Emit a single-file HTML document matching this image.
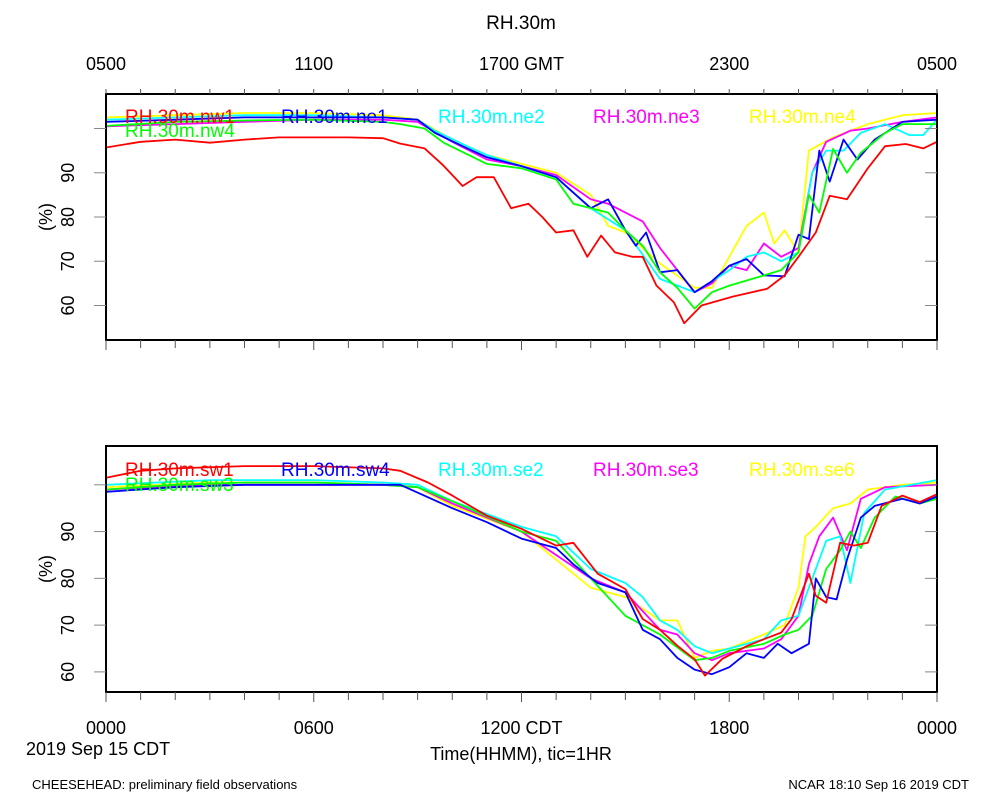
<!DOCTYPE html>
<html><head><meta charset="utf-8"><style>
body{margin:0;background:#fff;}
svg text{font-family:"Liberation Sans",sans-serif;}
</style></head><body>
<svg id="chart" width="1000" height="800" viewBox="0 0 1000 800" xmlns="http://www.w3.org/2000/svg">
<text x="521" y="29" font-size="19" text-anchor="middle">RH.30m</text>
<g id="g-top"></g>
<g id="g-bot"></g>
<text x="521" y="760" font-size="18" text-anchor="middle">Time(HHMM), tic=1HR</text>
<text x="26" y="755" font-size="18">2019 Sep 15 CDT</text>
<text x="32" y="789" font-size="13">CHEESEHEAD: preliminary field observations</text>
<text x="969" y="789" font-size="13" text-anchor="end">NCAR 18:10 Sep 16 2019 CDT</text>
</svg>
<script>
const topTickLabels = ["0500","1100","1700 GMT","2300","0500"];
const botTickLabels = ["0000","0600","1200 CDT","1800","0000"];
const yTicks = [60,70,80,90,100];
const yTickLabels = ["60","70","80","90",""];

const nw1_t=[0,1,2,3,4,5,6,7,8,8.5,9.2,9.75,10.3,10.7,11.2,11.7,12.2,12.6,13,13.5,13.9,14.3,14.7,15.2,15.5,15.9,16.4,16.7,17.2,18.1,19.1,19.6,20,20.5,20.9,21.4,22,22.5,23.1,23.6,24];
const nw1_v=[95.7,97,97.5,96.8,97.5,98,98,98,97.8,96.6,95.5,91.6,87,89,89,82,83,80,76.5,77,71,75.8,72,71,71,64.5,60.7,56,60,62,63.8,66.8,71,76.5,84.8,84,91,96,96.5,95.5,97];
const nw4_t=[0,2,4,6,8,8.5,9.2,9.75,11,12,13,13.5,14.5,15,15.5,16,16.5,17,17.5,18,19,19.5,20,20.3,20.6,21,21.4,21.8,22.5,23,24];
const nw4_v=[100.6,101.5,101.8,102,101.5,101,100,96.8,92,91,88.5,83,81,77,73.5,67.5,64,59.3,63,64.5,66.8,68,72,85,81,95.4,90,94.5,99,101,101];
const ne1_t=[0,2,4,6,8,9,9.5,10.3,11,12,13,13.5,14,14.5,15,15.3,15.6,16,16.5,17,17.5,18,18.5,19,19.6,20,20.3,20.6,20.9,21.3,21.7,22.2,23,24];
const ne1_v=[101.5,102,102.5,102.5,102.5,102,99,96,93.5,91.5,89,85.5,82,84,77,73.5,76.5,67.5,68,63,65.5,69,70.5,66.8,66.6,76,75,95,88,97.5,93,97.5,101.5,102];
const ne2_t=[0,2,4,6,8,9,9.5,10.3,11,12,13,14,15,16,17,18,18.5,19,19.5,20,20.4,20.8,21.3,21.8,22.5,23.2,23.6,24];
const ne2_v=[102,102.5,103,103,102.5,102,99.5,96.5,94,91.5,89,82,77,66,63,68,71,72,70,72,90,95,95,99,101,98.5,98.5,102];
const ne3_t=[0,2,4,6,8,9,10,11,12,13,14,14.5,15.5,16,16.5,17,17.5,18,18.5,19,19.5,20,20.4,20.8,21.5,22,23,24];
const ne3_v=[100.5,101,101.5,102,102,101.5,97,93,91.5,89.5,84,83,79,73,68,63,65,69,68,74,71,73,90,97,99.5,100,101.5,102.5];
const ne4_t=[0,2,4,6,8,9,10,11,12,13,14,14.5,15,16,17,17.5,18,18.5,19,19.3,19.6,20,20.3,21,22,23,24];
const ne4_v=[102.5,103,103.5,103.5,103,102,97.5,94,92,90,85,78,76.5,69.5,64,64,71,78,81,74,77,72,95,98,101,103,103.5];

const sw1_t=[0,1,2,4,6,8,8.5,9.3,10,11,12,13,13.5,14.2,15,15.5,16,16.5,17,17.3,17.8,18.5,19,19.5,19.8,20.3,20.5,20.8,21.2,21.6,22,22.4,23,23.5,24];
const sw1_v=[101.5,103,103.5,104,104,103.5,103,100.5,97.7,93.4,90.6,87,87.6,81,77.7,71.3,69,65.6,62.7,59.2,62.8,65.5,67,68.4,71.3,81,76.3,74.8,87.6,87,87.6,95.5,97.7,96.3,98];
const sw4_t=[0,2,4,6,8,8.5,10,11,12,13,13.5,14.2,15,15.5,16,16.5,17,17.5,18,18.5,19,19.4,19.8,20.3,20.5,20.8,21.1,21.4,21.8,22.2,23,23.5,24];
const sw4_v=[98.5,99.5,100,100,100,100,95,92,88.5,86.5,83,79,77,69,67,63,60.5,59.5,61,64,63,66,64,66,80,76,75.5,84,93,95.5,97,96,97.5];
const sw3_t=[0,2,4,6,8,9,10,12,13,14,15,16,17,17.5,18,19,19.6,20,20.4,20.8,21.2,21.5,21.8,22.2,22.8,23.5,24];
const sw3_v=[99,100,100.5,100.5,100,99.5,96.5,90,88,80,72,68,62.5,63,64.5,66,68,69,72,82,86,90,86.5,93,97.5,96,97];
const se2_t=[0,3,6,8,9,10,12,13,14,15,15.5,16,16.5,17,17.5,18,19,19.5,20,20.4,20.8,21.2,21.5,21.9,22.5,24];
const se2_v=[100,101,101,100.5,100,96.5,91,89,82,79,76,71,69,65.5,64,65,67,71,72,80,88,89,79,94,99,101];
const se3_t=[0,3,6,8,9,10,12,14,15,16,16.5,17,17.5,18,19,19.5,20,20.3,20.6,21,21.4,21.8,22.5,24];
const se3_v=[99,100,100,100,99.5,96,90,80,77,69,68,64,62.5,64,65,67,72,83,89,93,86,97,99.5,100];
const se6_t=[0,3,6,8,9,10,12,14,15,16,16.5,17,17.5,18,19,19.6,20,20.2,20.5,21,21.5,22,23,24];
const se6_v=[99.5,100.5,100.5,100,99.5,95.5,90,78,76,71,71,63,64.5,65,68,70,78,89,91,95,96,99,100,100.5];

const NS="http://www.w3.org/2000/svg";
const X0=106,X1=937;
const xs=h=>X0+(X1-X0)*h/24;
function mk(tag,attrs,parent){const e=document.createElementNS(NS,tag);for(const k in attrs)e.setAttribute(k,attrs[k]);parent.appendChild(e);return e;}

function panel(g,top,bot,ymin,ymax,series,labels,xlabels,xlabelY,topTicksOut,name){
  const ys=v=>bot-(v-ymin)/(ymax-ymin)*(bot-top);
  const clipId='clip-'+name;
  const cp=mk('clipPath',{id:clipId},g);mk('rect',{x:X0,y:top,width:X1-X0,height:bot-top},cp);
  const lg=mk('g',{'clip-path':'url(#'+clipId+')'},g);
  series.forEach(s=>{
    const d=s.t.map((t,i)=>(i?'L':'M')+xs(t).toFixed(1)+','+ys(s.v[i]).toFixed(1)).join('');
    const p=mk('path',{d:d,fill:'none',stroke:s.c,'stroke-width':1.8,'stroke-linejoin':'round'},lg);
    
    
  });
  const fr=mk('rect',{x:X0,y:top,width:X1-X0,height:bot-top,fill:'none',stroke:'#000','stroke-width':2},g);
  
  
  for(let h=0;h<=24;h++){
    const x=xs(h),maj=h%6==0;
    mk('line',{x1:x,x2:x,y1:bot,y2:bot+(maj?10:8),stroke:'#555','stroke-width':1},g);
    if(topTicksOut) mk('line',{x1:x,x2:x,y1:top,y2:top-5,stroke:'#555','stroke-width':1},g);
  }
  yTicks.forEach((v,i)=>{
    const y=ys(v);
    mk('line',{x1:X0-12,x2:X0,y1:y,y2:y,stroke:'#888','stroke-width':1},g);
    mk('line',{x1:X1,x2:X1-12,y1:y,y2:y,stroke:'#888','stroke-width':1},g);
    if(yTickLabels[i]){
      const t=mk('text',{x:0,y:0,'font-size':18,'text-anchor':'middle',transform:`translate(74,${y}) rotate(-90)`},g);
      t.textContent=yTickLabels[i];
      
      
    }
  });
  const yt=mk('text',{x:0,y:0,'font-size':18,'text-anchor':'middle',transform:`translate(52,${(top+bot)/2}) rotate(-90)`},g);
  yt.textContent='(%)';
  
  
  xlabels.forEach((l,i)=>{
    const t=mk('text',{x:xs(i*6),y:xlabelY,'font-size':18,'text-anchor':'middle'},g);
    t.textContent=l;
    
    
  });
  labels.forEach(l=>{
    const t=mk('text',{x:l.x,y:l.y,'font-size':19,fill:l.c},g);
    t.textContent=l.txt;
    
    
  });
}
const topSeries=[
 {n:'ne4',c:'#ffff00',t:ne4_t,v:ne4_v},{n:'ne3',c:'#ff00ff',t:ne3_t,v:ne3_v},{n:'ne2',c:'#00ffff',t:ne2_t,v:ne2_v},
 {n:'ne1',c:'#0000ff',t:ne1_t,v:ne1_v},{n:'nw4',c:'#00ff00',t:nw4_t,v:nw4_v},{n:'nw1',c:'#ff0000',t:nw1_t,v:nw1_v}];
const botSeries=[
 {n:'se6',c:'#ffff00',t:se6_t,v:se6_v},{n:'se3',c:'#ff00ff',t:se3_t,v:se3_v},{n:'se2',c:'#00ffff',t:se2_t,v:se2_v},
 {n:'sw3',c:'#00ff00',t:sw3_t,v:sw3_v},{n:'sw4',c:'#0000ff',t:sw4_t,v:sw4_v},{n:'sw1',c:'#ff0000',t:sw1_t,v:sw1_v}];
panel(document.getElementById('g-top'),94,340,52.2,107.8,topSeries,[
 {x:125,y:123,c:'#ff0000',txt:'RH.30m.nw1'},{x:281,y:123,c:'#0000ff',txt:'RH.30m.ne1'},{x:438,y:123,c:'#00ffff',txt:'RH.30m.ne2'},
 {x:593,y:123,c:'#ff00ff',txt:'RH.30m.ne3'},{x:749,y:123,c:'#ffff00',txt:'RH.30m.ne4'},{x:125,y:137,c:'#00ff00',txt:'RH.30m.nw4'}],
 topTickLabels,70,true,'top');
panel(document.getElementById('g-bot'),446,692,55.7,108.3,botSeries,[
 {x:125,y:476,c:'#ff0000',txt:'RH.30m.sw1'},{x:281,y:476,c:'#0000ff',txt:'RH.30m.sw4'},{x:438,y:476,c:'#00ffff',txt:'RH.30m.se2'},
 {x:593,y:476,c:'#ff00ff',txt:'RH.30m.se3'},{x:749,y:476,c:'#ffff00',txt:'RH.30m.se6'},{x:125,y:491,c:'#00ff00',txt:'RH.30m.sw3'}],
 botTickLabels,734,false,'bottom');
</script>
</body></html>
